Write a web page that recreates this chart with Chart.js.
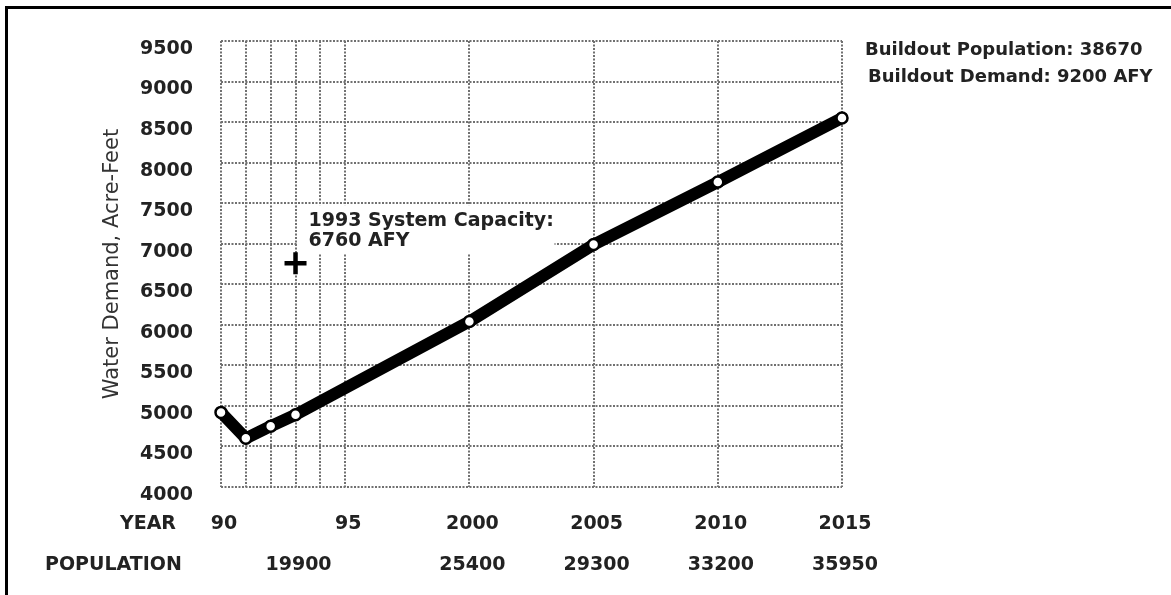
<!DOCTYPE html>
<html>
<head>
<meta charset="utf-8">
<script src="https://cdn.jsdelivr.net/npm/chart.js@4.4.1/dist/chart.umd.min.js"></script>
<style>
  html, body { margin: 0; padding: 0; background: #fff; }
  #wrap { position: relative; width: 1171px; height: 595px; overflow: hidden; }
  #frame { position: absolute; left: 5px; top: 6px; right: -5px; bottom: -5px; border-left: 3px solid #000; border-top: 3px solid #000; pointer-events: none; }
</style>
</head>
<body>
<div id="wrap">
  <canvas id="chart" width="1171" height="595"></canvas>
  <div id="frame"></div>
</div>
<script>
// demand curve, acre-feet
const years = [1990, 1991, 1992, 1993, 2000, 2005, 2010, 2015];
const demand = [4920, 4600, 4750, 4890, 6040, 6990, 7760, 8550];

// x grid + two rows of labels under it
const gridYears = [1990, 1991, 1992, 1993, 1994, 1995, 2000, 2005, 2010, 2015];
const yearLabels = ['90', '', '', '', '', '95', '2000', '2005', '2010', '2015'];
const populationLabels = ['', '', '', '19900', '', '', '25400', '29300', '33200', '35950'];
const rowTitles = ['YEAR', 'POPULATION'];

const capacityYear = 1993;
const capacity = 6760;
const capacityNote = ['1993 System Capacity:', '6760 AFY'];
const buildoutNote = ['Buildout Population: 38670', 'Buildout Demand: 9200 AFY'];

const FONT = '"DejaVu Sans", Verdana, sans-serif';
const INK = '#222';
const GRID = '#707070';

const notes = {
    id: 'notes',
    beforeDatasetsDraw(chart) {
        const { ctx, scales: { x, y } } = chart;
        const cx = x.getPixelForValue(capacityYear);
        const cy = y.getPixelForValue(capacity);
        ctx.save();
        // white patch behind the capacity note hides the grid
        ctx.fillStyle = '#fff';
        ctx.fillRect(cx + 2, cy - 58, 257, 48);
        ctx.fillStyle = INK;
        ctx.font = 'bold 19px ' + FONT;
        ctx.textBaseline = 'middle';
        ctx.fillText(capacityNote[0], cx + 13, cy - 42);
        ctx.fillText(capacityNote[1], cx + 13, cy - 22);
        ctx.restore();
    },
    afterDraw(chart) {
        const { ctx, chartArea, scales: { x } } = chart;
        ctx.save();
        ctx.fillStyle = INK;
        ctx.font = 'bold 19px ' + FONT;
        ctx.textBaseline = 'middle';
        ctx.textAlign = 'right';
        ctx.fillText(rowTitles[0], 176, x.top + 37);
        ctx.textAlign = 'left';
        ctx.fillText(rowTitles[1], 45, x.top + 78);
        ctx.font = 'bold 18px ' + FONT;
        ctx.fillText(buildoutNote[0], chartArea.right + 23, chartArea.top + 9);
        ctx.fillText(buildoutNote[1], chartArea.right + 26, chartArea.top + 36);
        ctx.restore();
    }
};

new Chart(document.getElementById('chart'), {
    type: 'line',
    data: {
        datasets: [{
            data: years.map((yr, i) => ({ x: yr, y: demand[i] })),
            clip: false,
            borderColor: '#000',
            borderWidth: 12,
            borderJoinStyle: 'round',
            borderCapStyle: 'round',
            pointRadius: 5.5,
            pointBorderWidth: 2.5,
            pointBackgroundColor: '#fff',
            pointBorderColor: '#000',
            tension: 0
        }, {
            data: [{ x: capacityYear, y: capacity }],
            clip: false,
            showLine: false,
            pointStyle: 'cross',
            pointRadius: 11,
            pointBorderWidth: 4.5,
            pointBorderColor: '#000'
        }]
    },
    options: {
        responsive: false,
        animation: false,
        events: [],
        layout: { padding: { top: 41, right: 329, left: 0, bottom: 0 } },
        plugins: { legend: { display: false }, tooltip: { enabled: false } },
        scales: {
            x: {
                type: 'linear',
                min: 1990,
                max: 2015,
                afterBuildTicks: scale => { scale.ticks = gridYears.map(v => ({ value: v })); },
                afterFit: scale => { scale.height = 108; },
                border: { display: false, dash: [2, 1.5] },
                grid: { color: GRID, lineWidth: 2, drawTicks: false },
                ticks: {
                    autoSkip: false,
                    maxRotation: 0,
                    padding: 17,
                    labelOffset: 3,
                    color: INK,
                    font: { family: FONT, size: 19, weight: 'bold', lineHeight: '41px' },
                    callback: (v, i) => [yearLabels[i], populationLabels[i]]
                }
            },
            y: {
                min: 4000,
                max: 9500,
                afterFit: scale => { scale.width = 221; },
                border: { display: false, dash: [2, 1.5] },
                grid: { color: GRID, lineWidth: 2, drawTicks: false },
                ticks: {
                    stepSize: 500,
                    autoSkip: false,
                    padding: 28,
                    labelOffset: 8,
                    color: INK,
                    font: { family: FONT, size: 19, weight: 'bold' },
                    callback: v => String(v)
                },
                title: {
                    display: true,
                    text: 'Water Demand, Acre-Feet',
                    color: '#333',
                    padding: { top: 100, bottom: 0 },
                    font: { family: FONT, size: 21 }
                }
            }
        }
    },
    plugins: [notes]
});
</script>
</body>
</html>
